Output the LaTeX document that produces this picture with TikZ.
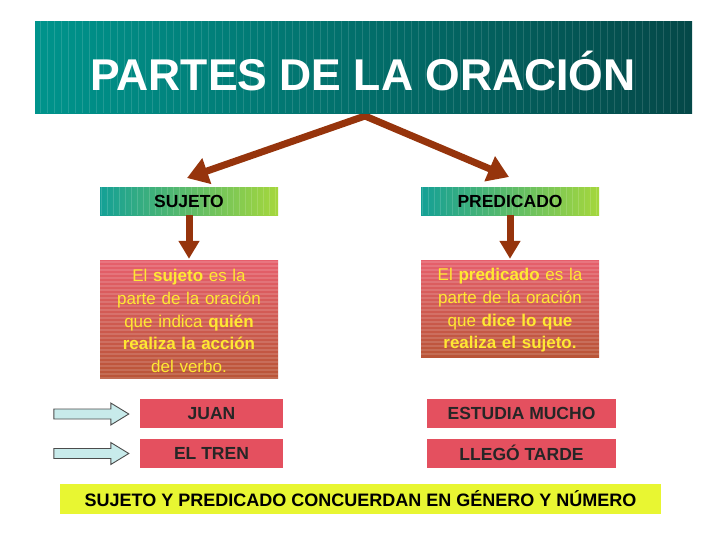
\documentclass[tikz,border=0pt]{standalone}
\usepackage{fontspec}
\setmainfont{Liberation Sans}
\usetikzlibrary{arrows.meta,calc}
\definecolor{tealL}{RGB}{0,148,140}
\definecolor{tealR}{RGB}{4,72,72}
\definecolor{brn}{RGB}{150,52,12}
\definecolor{gbL}{RGB}{20,160,150}
\definecolor{gbM}{RGB}{70,185,100}
\definecolor{gbR}{RGB}{165,215,60}
\definecolor{redT}{RGB}{230,95,108}
\definecolor{redB}{RGB}{185,85,55}
\definecolor{redS}{RGB}{228,80,95}
\definecolor{txtY}{RGB}{255,232,50}
\definecolor{lblue}{RGB}{200,235,235}
\definecolor{ylw}{RGB}{232,246,50}
\tikzset{
  brnarrow/.style={draw=brn, line width=7pt, line join=miter},
  headbox/.style={rectangle, inner sep=0pt, minimum width=178pt, minimum height=28pt,
    left color=gbL, middle color=gbM, right color=gbR},
  headtxt/.style={rectangle, inner sep=0pt, minimum width=178pt, minimum height=28pt,
    font=\fontsize{17.5}{20}\selectfont\bfseries, text=black},
  defbox/.style={rectangle, inner sep=0pt, minimum width=178pt, top color=redT, bottom color=redB},
  deftxt/.style={rectangle, inner sep=0pt, align=center, text width=178pt,
    font=\fontsize{17}{22.7}\selectfont, text=txtY},
  exbox/.style={rectangle, inner sep=0pt, fill=redS, minimum height=29pt,
    font=\fontsize{17.5}{20}\selectfont\bfseries, text=black!85},
  blarrow/.style={fill=lblue, draw=black!70, line width=0.9pt, line join=miter}
}
\begin{document}
\begin{tikzpicture}[x=1pt,y=-1pt]
\useasboundingbox (0,0) rectangle (728,546);
\fill[white] (0,0) rectangle (728,546);
% V arrows from title
\coordinate (apex) at (365,116);
\coordinate (lt) at (187,178);
\coordinate (rt) at (509,177);
\draw[brnarrow, {Triangle[width=26pt,length=21pt]}-{Triangle[width=26pt,length=21pt]}] (lt) -- (apex) -- (rt);
% title bar
\node[rectangle, inner sep=0pt, minimum width=657pt, minimum height=92pt,
  left color=tealL, right color=tealR] (bar) at (363.5,67) {};
\foreach \x in {40,47,...,690} \draw[white, opacity=0.13, line width=0.7pt] (\x,21) -- (\x,113);
\node[text=white, font=\fontsize{44.5}{50}\selectfont\bfseries] (title) at (363,71) {PARTES DE LA ORACIÓN};
% header boxes
\node[headbox] (suj) at (189,201) {};
\node[headbox] (pre) at (510,201) {};
\foreach \b in {suj,pre}{
  \foreach \i in {0,6,...,174}
    \draw[white, opacity=0.15, line width=1pt] ($(\b.north west)+(\i+2,0)$) -- ($(\b.south west)+(\i+2,0)$);
}
\node[headtxt] (sujt) at (189,201.5) {SUJETO};
\node[headtxt] (pret) at (510,201.5) {PREDICADO};
% definition boxes
\node[defbox, minimum height=118pt] (sujdef) at (189,319) {};
\node[defbox, minimum height=97pt] (predef) at (510,308.5) {};
\foreach \b/\h in {sujdef/118,predef/97}{
  \foreach \j in {2,6,...,\h}
    \draw[white, opacity=0.14, line width=1.5pt] ($(\b.north west)+(0,\j)$) -- ($(\b.north east)+(0,\j)$);
}
\node[deftxt] (sujtxt) at (189,321)
  {El \textbf{sujeto} es la\\parte de la oración\\que indica \textbf{quién}\\\textbf{realiza la acción}\\del verbo.};
\node[deftxt] (pretxt) at (510,310.5)
  {El \textbf{predicado} es la\\parte de la oración\\que \textbf{dice lo que}\\\textbf{realiza el sujeto.}};
% down arrows
\draw[brnarrow, -{Triangle[width=20pt,length=18pt]}] (suj.south) -- ($(sujdef.north)+(0,-1)$);
\draw[brnarrow, -{Triangle[width=20pt,length=18pt]}] (pre.south) -- ($(predef.north)+(0,-1)$);
% example boxes
\node[exbox, minimum width=143pt] (juan) at (211.5,413.5) {JUAN};
\node[exbox, minimum width=143pt] (tren) at (211.5,453) {EL TREN};
\node[exbox, minimum width=189pt] (est) at (521.5,413.5) {ESTUDIA MUCHO};
\node[exbox, minimum width=189pt] (lle) at (521.5,453) {LLEGÓ TARDE};
% light blue arrows
\foreach \n in {juan,tren}{
  \coordinate (tip\n) at ($(\n.west)+(-11,0.5)$);
  \filldraw[blarrow] ($(tip\n)+(-75,-5)$) -- ($(tip\n)+(-18,-5)$) -- ($(tip\n)+(-18,-11)$) -- (tip\n)
    -- ($(tip\n)+(-18,11)$) -- ($(tip\n)+(-18,5)$) -- ($(tip\n)+(-75,5)$) -- cycle;
}
% bottom
\node[rectangle, inner sep=0pt, fill=ylw, minimum width=601pt, minimum height=30pt,
  font=\fontsize{18}{20}\selectfont\bfseries, text=black] (bottom) at (360.5,499)
  {SUJETO Y PREDICADO CONCUERDAN EN GÉNERO Y NÚMERO};
\end{tikzpicture}
\end{document}
